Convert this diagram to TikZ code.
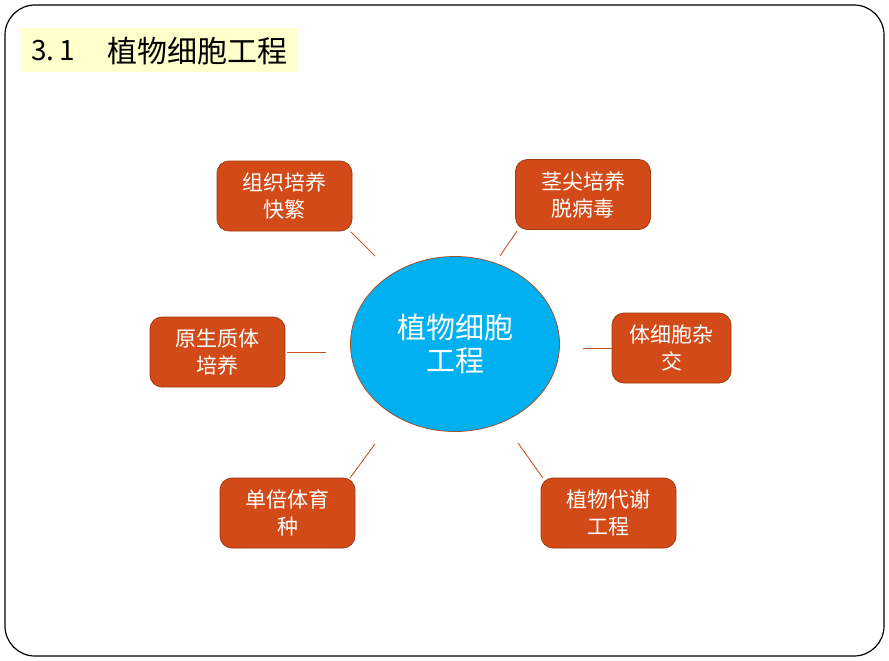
\documentclass[tikz,border=0pt]{standalone}
\usepackage{fontspec}
\newfontfamily\cjk{Noto Sans CJK SC}
\usetikzlibrary{shapes.geometric}
\definecolor{boxfill}{HTML}{D24A18}
\definecolor{boxline}{HTML}{A23A12}
\definecolor{ellfill}{HTML}{00B0F0}
\definecolor{ellline}{HTML}{A0502A}
\definecolor{titlebg}{HTML}{FFFFCC}
\definecolor{conncol}{HTML}{C8541E}
\begin{document}
\begin{tikzpicture}[x=1pt,y=-1pt,
  bx/.style={rectangle, rounded corners=12pt, fill=boxfill, draw=boxline, line width=0.8pt,
    minimum width=135pt, minimum height=70pt, inner sep=0pt, text=white, align=center,
    font=\cjk\fontsize{21}{27}\selectfont},
  hub/.style={ellipse, fill=ellfill, draw=ellline, line width=0.8pt, minimum width=209pt,
    minimum height=175pt, inner sep=0pt, text=white, align=center,
    font=\cjk\fontsize{29}{33}\selectfont},
  conn/.style={draw=conncol, line width=0.9pt},
  frame/.style={draw=black, line width=1.2pt, rounded corners=30pt}
]
\useasboundingbox (0,0) rectangle (889,661);
\draw[frame] (5,5) rectangle (884,656);
\node[fill=titlebg, minimum width=275pt, minimum height=44pt, inner sep=0pt] (title) at (159.5,50) {};
\node[font=\cjk\fontsize{28}{30}\selectfont, inner sep=0pt] (titlenum) at (53,51) {3.\,1};
\node[font=\cjk\fontsize{30}{30}\selectfont, inner sep=0pt] (titletext) at (197.5,51) {植物细胞工程};

\node[hub] (e) at (455,344) {植物细胞\\工程};
\node[bx] (n1) at (284.5,196) {组织培养\\快繁};
\node[bx] (n2) at (583,194.5) {茎尖培养\\脱病毒};
\node[bx] (n3) at (217.5,352) {原生质体\\培养};
\node[bx, minimum width=119pt] (n4) at (671.5,348) {体细胞杂\\交};
\node[bx] (n5) at (287.5,513) {单倍体育\\种};
\node[bx] (n6) at (608.5,513) {植物代谢\\工程};

\draw[conn] ([shift={(66.5,36)}]n1.center) -- ([shift={(-80,-88)}]e.center);
\draw[conn] ([shift={(-66,36.5)}]n2.center) -- ([shift={(45,-88)}]e.center);
\draw[conn] ([shift={(69.5,0)}]n3.center) -- ([shift={(-129,8)}]e.center);
\draw[conn] (n4.west) -- ([shift={(128,4)}]e.center);
\draw[conn] ([shift={(62.5,-35)}]n5.center) -- ([shift={(-80,100)}]e.center);
\draw[conn] ([shift={(-65.5,-35)}]n6.center) -- ([shift={(63,99)}]e.center);
\end{tikzpicture}
\end{document}
